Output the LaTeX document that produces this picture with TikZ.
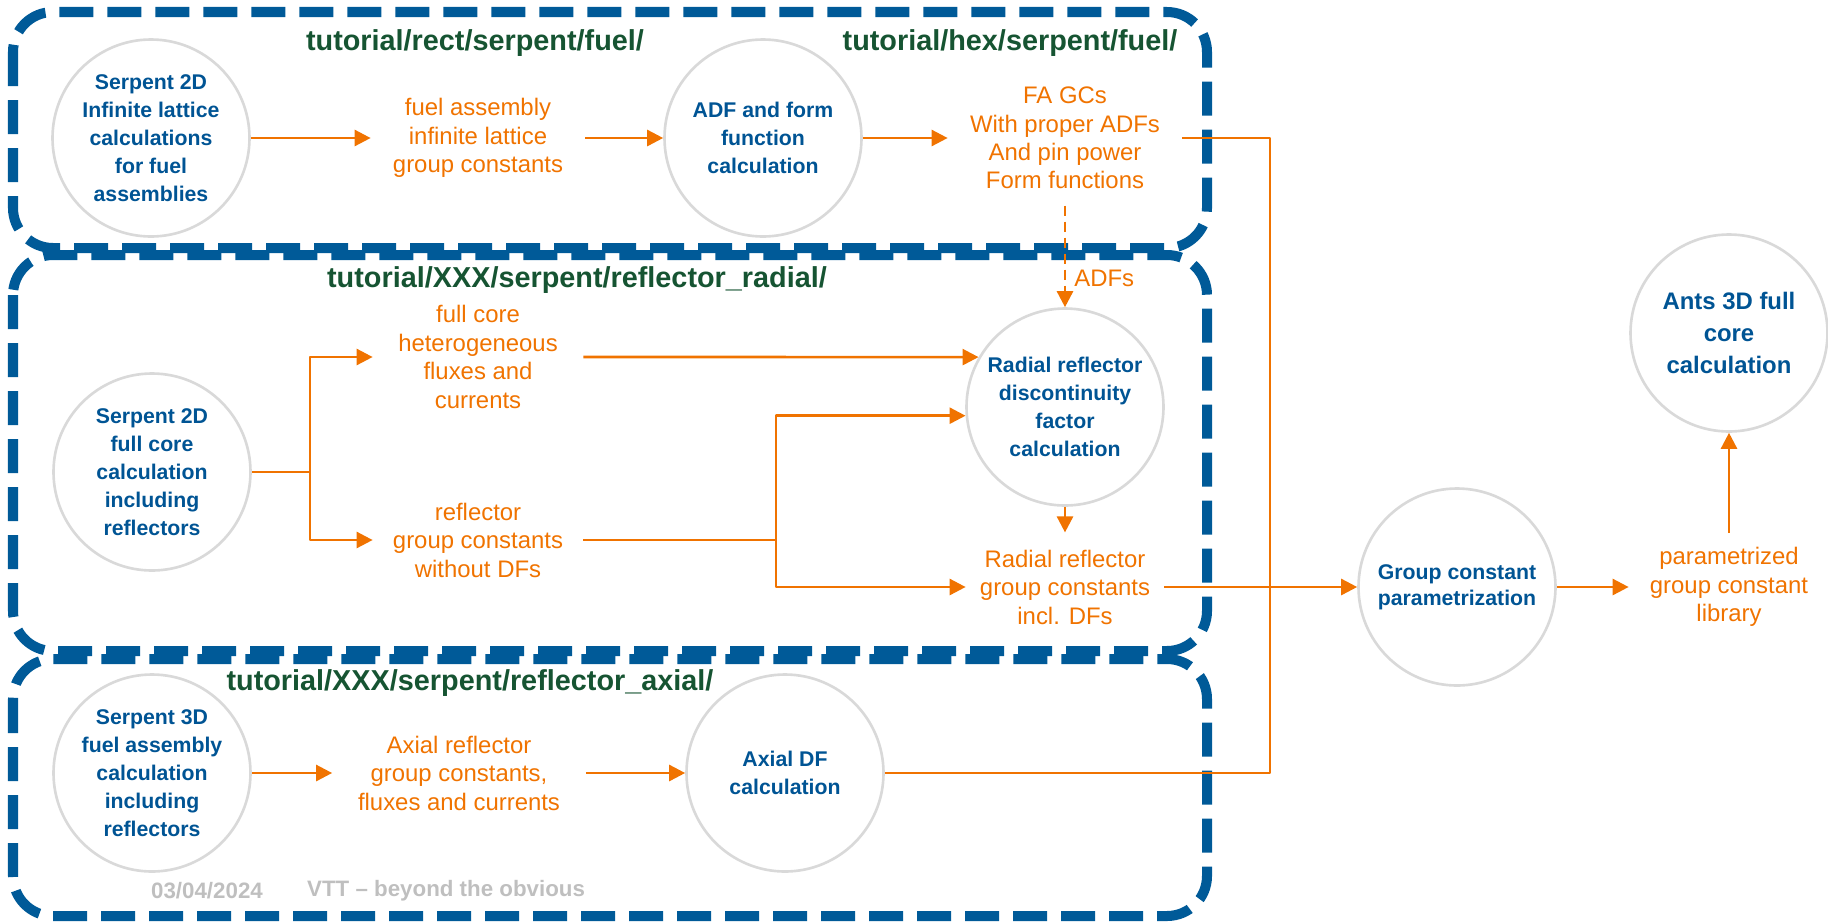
\documentclass[tikz,border=0pt]{standalone}
\usepackage{fontspec}
\setmainfont{Liberation Sans}
\usetikzlibrary{arrows.meta}

\definecolor{vttblue}{RGB}{0,84,148}
\definecolor{boxblue}{RGB}{0,90,152}
\definecolor{dirgreen}{RGB}{22,84,50}
\definecolor{flowor}{RGB}{240,115,0}
\definecolor{ringgray}{RGB}{217,217,217}
\definecolor{footgray}{RGB}{191,191,191}

\tikzset{
  proc/.style={circle, draw=ringgray, line width=1.5pt, minimum size=3.94cm, inner sep=0pt,
    align=center, text=vttblue, font=\bfseries\fontsize{12.1}{15.9}\selectfont},
  datum/.style={align=center, inner sep=0pt, text=flowor, font=\fontsize{13.6}{16.2}\selectfont},
  dirlbl/.style={text=dirgreen, font=\bfseries\fontsize{16.4}{19}\selectfont},
  dirbox/.style={draw=boxblue, line width=5.7pt, dash pattern=on 0.68cm off 0.28cm, rounded corners=0.8cm},
  wire/.style={draw=flowor, line width=1.5pt},
  flow/.style={wire, -{Triangle[length=0.32cm,width=0.32cm]}},
}

\begin{document}
\begin{tikzpicture}[line join=round]
	\useasboundingbox (0,0) rectangle (36.56,-18.46);
	
	% directory frames
	\draw[dirbox] (0.26,-0.24) rectangle (24.14,-4.96);
	\draw[dirbox] (0.26,-5.1) rectangle (24.14,-13.02);
	\draw[dirbox] (0.26,-13.18) rectangle (24.14,-18.32);
	
	\node[dirlbl] (lrect) at (9.5,-0.86) {tutorial/rect/serpent/fuel/};
	\node[dirlbl] (lhex) at (20.2,-0.86) {tutorial/hex/serpent/fuel/};
	\node[dirlbl] (lrad) at (11.54,-5.6) {tutorial/XXX/serpent/reflector\_radial/};
	\node[dirlbl] (lax) at (9.4,-13.66) {tutorial/XXX/serpent/reflector\_axial/};
	
	% fuel
	\node[proc] (s2d) at (3.02,-2.76) {Serpent 2D\\Infinite lattice\\calculations\\for fuel\\assemblies};
	\node[datum, minimum width=4.28cm] (fainf) at (9.56,-2.76) {fuel assembly\\infinite lattice\\group constants};
	\node[proc] (adf) at (15.26,-2.76) {ADF and form\\function\\calculation};
	\node[datum, minimum width=4.68cm] (fagc) at (21.3,-2.76) {FA GCs\\With proper ADFs\\And pin power\\Form functions};
	
	\draw[flow] (s2d) -- (fainf);
	\draw[flow] (fainf) -- (adf);
	\draw[flow] (adf) -- (fagc);
	
	% radial reflector
	\node[proc] (fc2d) at (3.04,-9.44) {Serpent 2D\\full core\\calculation\\including\\reflectors};
	\node[datum, minimum width=4.2cm] (flux) at (9.56,-7.14) {full core\\heterogeneous\\fluxes and\\currents};
	\node[datum, minimum width=4.2cm] (refgc) at (9.56,-10.8) {reflector\\group constants\\without DFs};
	\node[proc] (rad) at (21.3,-8.14) {Radial reflector\\discontinuity\\factor\\calculation};
	\node[datum, minimum width=3.96cm] (radgc) at (21.3,-11.74) {Radial reflector\\group constants\\incl. DFs};
	
	\coordinate (br1) at (6.2,-9.44);
	\coordinate (br2) at (15.52,-10.8);
	
	\draw[wire] (fc2d) -- (br1);
	\draw[flow] (br1) |- (flux);
	\draw[flow] (br1) |- (refgc);
	\draw[flow] (flux) -- (rad.150);
	\draw[wire] (refgc) -- (br2);
	\draw[flow] (br2) |- (rad.185);
	\draw[flow] (br2) |- (radgc);
	\draw[flow] (rad) -- ([yshift=0.34cm]radgc.north);
	\draw[flow, dash pattern=on 0.2cm off 0.12cm] ([yshift=-0.32cm]fagc.south) -- (rad)
		node[datum, pos=0.72, right=0.16cm] (adfs) {ADFs};
	
	% axial reflector
	\node[proc] (s3d) at (3.04,-15.46) {Serpent 3D\\fuel assembly\\calculation\\including\\reflectors};
	\node[datum, minimum width=5.06cm] (axgc) at (9.18,-15.46) {Axial reflector\\group constants,\\fluxes and currents};
	\node[proc] (axdf) at (15.7,-15.46) {Axial DF\\calculation};
	
	\draw[flow] (s3d) -- (axgc);
	\draw[flow] (axgc) -- (axdf);
	
	% parametrization and core calculation
	\coordinate (jn) at (25.4,-11.74);
	\node[proc, font=\bfseries\fontsize{12.1}{14.8}\selectfont] (gcp) at (29.14,-11.74) {Group constant\\parametrization};
	\node[datum, minimum width=4cm] (plib) at (34.58,-11.74) {parametrized\\group constant\\library};
	\node[proc, font=\bfseries\fontsize{13.6}{18.1}\selectfont] (ants) at (34.58,-6.66) {Ants 3D full\\core\\calculation};
	
	\draw[wire] (fagc.east) -| (jn);
	\draw[wire] (axdf) -| (jn);
	\draw[flow] (radgc) -- (gcp);
	\draw[flow] (gcp) -- (plib);
	\draw[flow] ([yshift=0.28cm]plib.north) -- (ants);
	
	% footer
	\node[text=footgray, font=\bfseries\fontsize{12.7}{15}\selectfont] (date) at (4.14,-17.82) {03/04/2024};
	\node[text=footgray, font=\bfseries\fontsize{12.7}{15}\selectfont, anchor=west] (slogan) at (6.02,-17.82) {VTT – beyond the obvious};
\end{tikzpicture}
\end{document}
